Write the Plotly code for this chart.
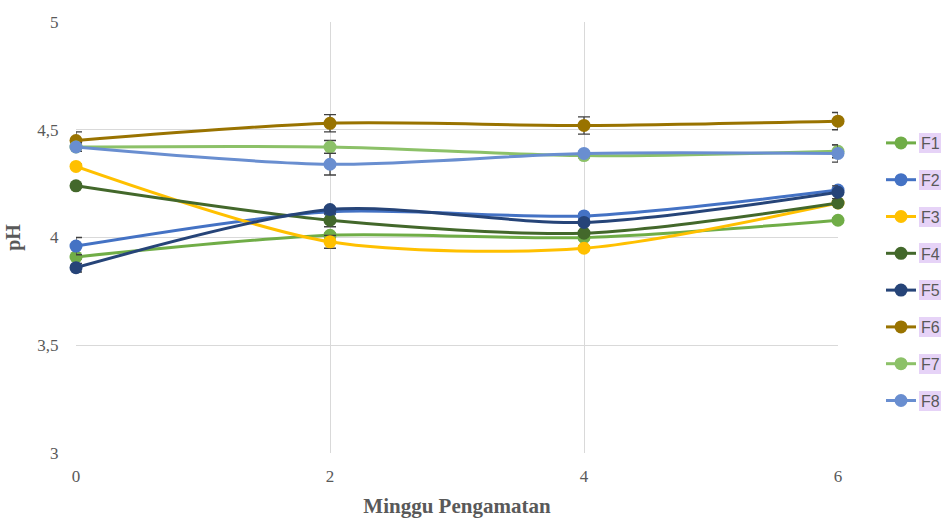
import plotly.graph_objects as go

weeks = [0, 2, 4, 6]
series_names = ["F1", "F2", "F3", "F4", "F5", "F6", "F7", "F8"]
F1 = [3.91, 4.01, 4.00, 4.08]
F2 = [3.96, 4.12, 4.10, 4.22]
F3 = [4.33, 3.98, 3.95, 4.16]
F4 = [4.24, 4.08, 4.02, 4.16]
F5 = [3.86, 4.13, 4.07, 4.21]
F6 = [4.45, 4.53, 4.52, 4.54]
F7 = [4.42, 4.42, 4.38, 4.40]
F8 = [4.42, 4.34, 4.39, 4.39]
err = {
    "F1": [0.01, 0.01, 0.01, 0.01],
    "F2": [0.04, 0.01, 0.01, 0.01],
    "F3": [0.01, 0.03, 0.01, 0.01],
    "F4": [0.01, 0.03, 0.01, 0.01],
    "F5": [0.02, 0.01, 0.01, 0.03],
    "F6": [0.04, 0.04, 0.04, 0.04],
    "F7": [0.02, 0.03, 0.01, 0.03],
    "F8": [0.02, 0.05, 0.01, 0.04],
}
values = [F1, F2, F3, F4, F5, F6, F7, F8]
colors = ["#70AD47", "#4472C4", "#FFC000", "#43682B", "#264478", "#997300", "#8CC168", "#698ED0"]

fig = go.Figure()
for name, vals, col in zip(series_names, values, colors):
    fig.add_trace(go.Scatter(
        x=weeks, y=vals, name=name, mode="lines+markers",
        line=dict(color=col, width=3, shape="spline", smoothing=0.8),
        marker=dict(color=col, size=13),
        error_y=dict(type="data", array=err[name], color="#404040", thickness=1.3, width=6),
        cliponaxis=False, legendgroup=name,
    ))

W, H = 944, 519
L, T, R, B = 76, 22, 106, 66
PW, PH = W - L - R, H - T - B

serif = "Liberation Serif, Times New Roman, serif"
fig.update_layout(
    width=W, height=H,
    margin=dict(l=L, r=R, t=T, b=B, autoexpand=False),
    paper_bgcolor="white", plot_bgcolor="white",
    separators=", ",
    showlegend=True,
    legend=dict(x=(881 - L) / PW, y=(T + PH - 126) / PH, xanchor="left", yanchor="top",
                font=dict(family="Liberation Sans, Arial", size=16, color="#595959"),
                tracegroupgap=13, traceorder="grouped", bgcolor="rgba(0,0,0,0)"),
    xaxis=dict(range=[0, 6], tickvals=weeks, showgrid=True, gridcolor="#D9D9D9", gridwidth=1.3,
               zeroline=False, showline=False, ticks="outside", ticklen=8, tickcolor="rgba(0,0,0,0)",
               tickfont=dict(family=serif, size=17, color="#595959"),
               title=dict(text="<b>Minggu Pengamatan</b>", font=dict(family=serif, size=21, color="#595959"), standoff=12)),
    yaxis=dict(range=[3, 5], dtick=0.5, showgrid=True, gridcolor="#D9D9D9", gridwidth=1.3,
               zeroline=False, showline=False, ticks="outside", ticklen=13, tickcolor="rgba(0,0,0,0)",
               tickfont=dict(family=serif, size=17, color="#595959"),
               title=dict(text="<b>pH</b>", font=dict(family=serif, size=20, color="#595959"), standoff=11)),
)

# lavender highlight boxes behind legend labels
hl_y = [143, 180, 217, 253, 290, 327, 364, 401]
for yp in hl_y:
    fig.add_shape(type="rect", xref="paper", yref="paper", layer="above",
                  x0=(919 - L) / PW, x1=(941 - L) / PW,
                  y0=(T + PH - (yp + 10)) / PH, y1=(T + PH - (yp - 10)) / PH,
                  fillcolor="#E6D3F7", line=dict(width=0))

fig.write_html("out.html", config={"displayModeBar": False},
               post_script="document.body.style.margin='0';document.body.style.overflow='hidden';")
